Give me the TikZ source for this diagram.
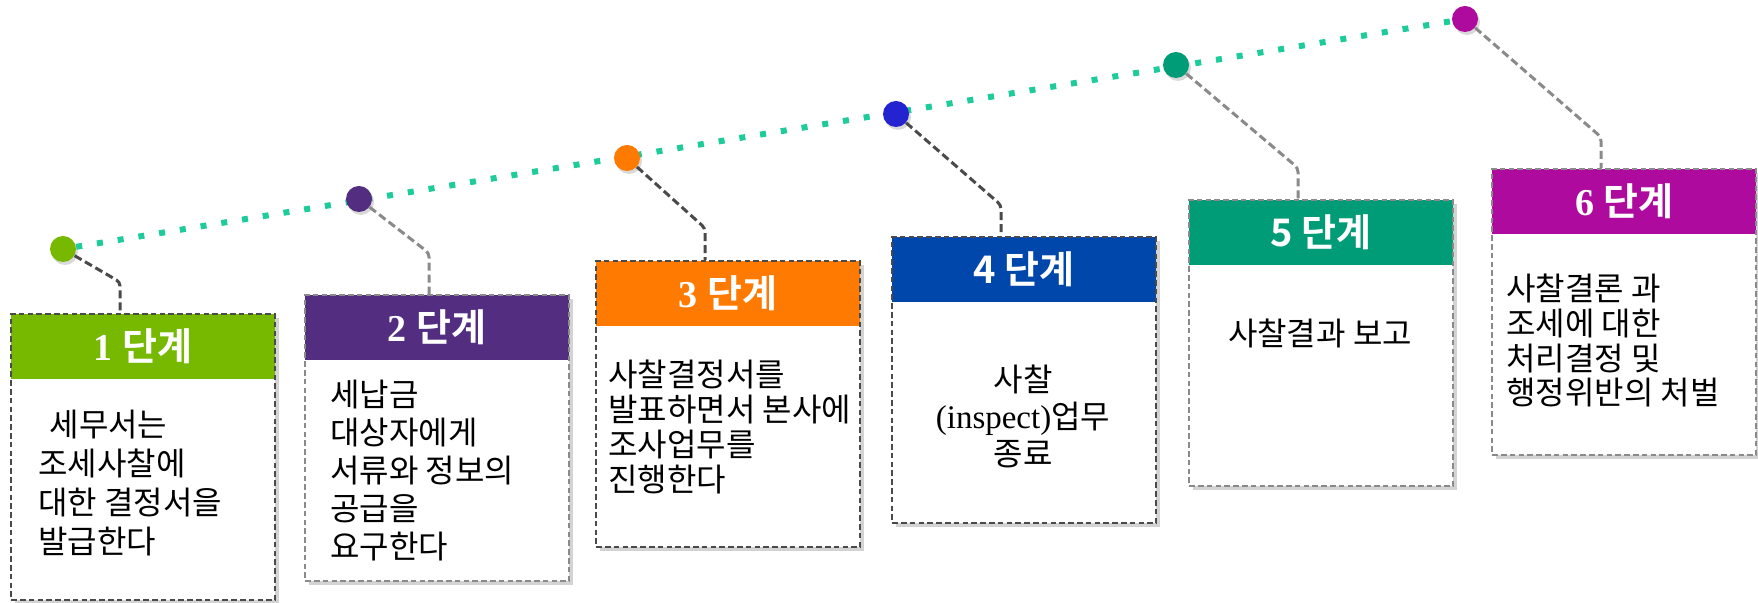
\documentclass[tikz,border=0pt]{standalone}
\usepackage{fontspec}
\setmainfont{Liberation Serif}
\newfontfamily\kr{Noto Sans CJK KR}[BoldFont={* Bold}]
\usetikzlibrary{shadows,backgrounds}
\definecolor{stgone}{HTML}{76B900}
\definecolor{stgtwo}{HTML}{522D80}
\definecolor{stgthree}{HTML}{FF7A00}
\definecolor{stgfour}{HTML}{0047AB}
\definecolor{stgfive}{HTML}{009B77}
\definecolor{stgsix}{HTML}{AE0A9E}
\definecolor{dotfour}{HTML}{2323D0}
\definecolor{trailgreen}{HTML}{1DCC9A}
\definecolor{edgedark}{HTML}{4A4A4A}
\definecolor{edgelight}{HTML}{8A8A8A}
\tikzset{
  stagebox/.style={fill=white, line width=1.2pt, dash pattern=on 2.8pt off 1.6pt,
    minimum width=132pt, minimum height=143pt, inner sep=0pt, anchor=north west,
    drop shadow={shadow xshift=2pt, shadow yshift=-2pt, opacity=0.35},
    path picture={\fill[#1] (path picture bounding box.north west) rectangle ([yshift=-32.5pt]path picture bounding box.north east);}},
  headtxt/.style={text=white, minimum height=32.5pt, inner sep=0pt, anchor=north, font=\fontsize{19}{21}\selectfont},
  stagedot/.style={circle, fill=#1, minimum size=13pt, inner sep=0pt,
    drop shadow={shadow xshift=1pt, shadow yshift=-1.5pt, opacity=0.3}},
  link/.style={draw=#1, line width=1.5pt, dash pattern=on 4pt off 2pt, rounded corners=2pt},
  trail/.style={draw=trailgreen, line width=3pt, dash pattern=on 3pt off 7.5pt},
  bodytxt/.style={inner sep=0pt, font=\kr\fontsize{16}{#1}\selectfont},
  bodytxt/.default=18
}
\begin{document}
\begin{tikzpicture}[x=0.5pt,y=-0.5pt]
  \useasboundingbox (0,0) rectangle (1758,603);
  % stages: boxes, dots and links
  \foreach \i/\bx/\by/\col/\dc/\edge/\dx/\dy/\kx/\ky in {
      1/10/313/stgone/stgone/edgedark/63/249/120/282,
      2/304/294/stgtwo/stgtwo/edgelight/359/199/429/253,
      3/595/260/stgthree/stgthree/edgedark/627/158/705/228,
      4/891/236/stgfour/dotfour/edgedark/896/114/1001/205,
      5/1188/199/stgfive/stgfive/edgelight/1176/65/1298/168,
      6/1491/168/stgsix/stgsix/edgelight/1465/19/1601/137}{
    \node[stagebox=\col, draw=\edge] (box\i) at (\bx,\by) {};
    \node[stagedot=\dc] (dot\i) at (\dx,\dy) {};
    \coordinate (bend\i) at (\kx,\ky);
    \draw[link=\edge] (dot\i) -- (bend\i) -- (bend\i |- box\i.north);
  }
  \begin{scope}[on background layer]
    \draw[trail] (dot1) -- (dot6);
  \end{scope}
  % headers
  \node[headtxt] (head1) at (box1.north) {\textbf{1} {\kr\bfseries 단계}};
  \node[headtxt] (head2) at (box2.north) {\textbf{2} {\kr\bfseries 단계}};
  \node[headtxt] (head3) at (box3.north) {\textbf{3} {\kr\bfseries 단계}};
  \node[headtxt] (head4) at (box4.north) {{\kr\bfseries 4 단계}};
  \node[headtxt] (head5) at (box5.north) {{\kr\bfseries 5 단계}};
  \node[headtxt] (head6) at (box6.north) {\textbf{6} {\kr\bfseries 단계}};
  % texts
  \node[bodytxt=19.5, align=left, anchor=north west] (txt1) at (38,410)
    {\hspace*{0.35em}세무서는\\조세사찰에\\대한 결정서을\\발급한다};
  \node[bodytxt=19, align=left, anchor=north west] (txt2) at (330,380)
    {세납금\\대상자에게\\서류와 정보의\\공급을\\요구한다};
  \node[bodytxt=17.5, align=left, anchor=north west] (txt3) at (608,360)
    {사찰결정서를\\발표하면서 본사에\\조사업무를\\진행한다};
  \node[bodytxt=18.5, align=center, anchor=north] (txt4) at (1023,365)
    {사찰\\{\rmfamily\fontsize{16.5}{18.5}\selectfont (inspect)}업무\\종료};
  \node[bodytxt, anchor=north] (txt5) at (1320,319) {사찰결과 보고};
  \node[bodytxt=17.3, align=left, anchor=north west] (txt6) at (1506,274)
    {사찰결론 과\\조세에 대한\\처리결정 및\\행정위반의 처벌};
\end{tikzpicture}
\end{document}
